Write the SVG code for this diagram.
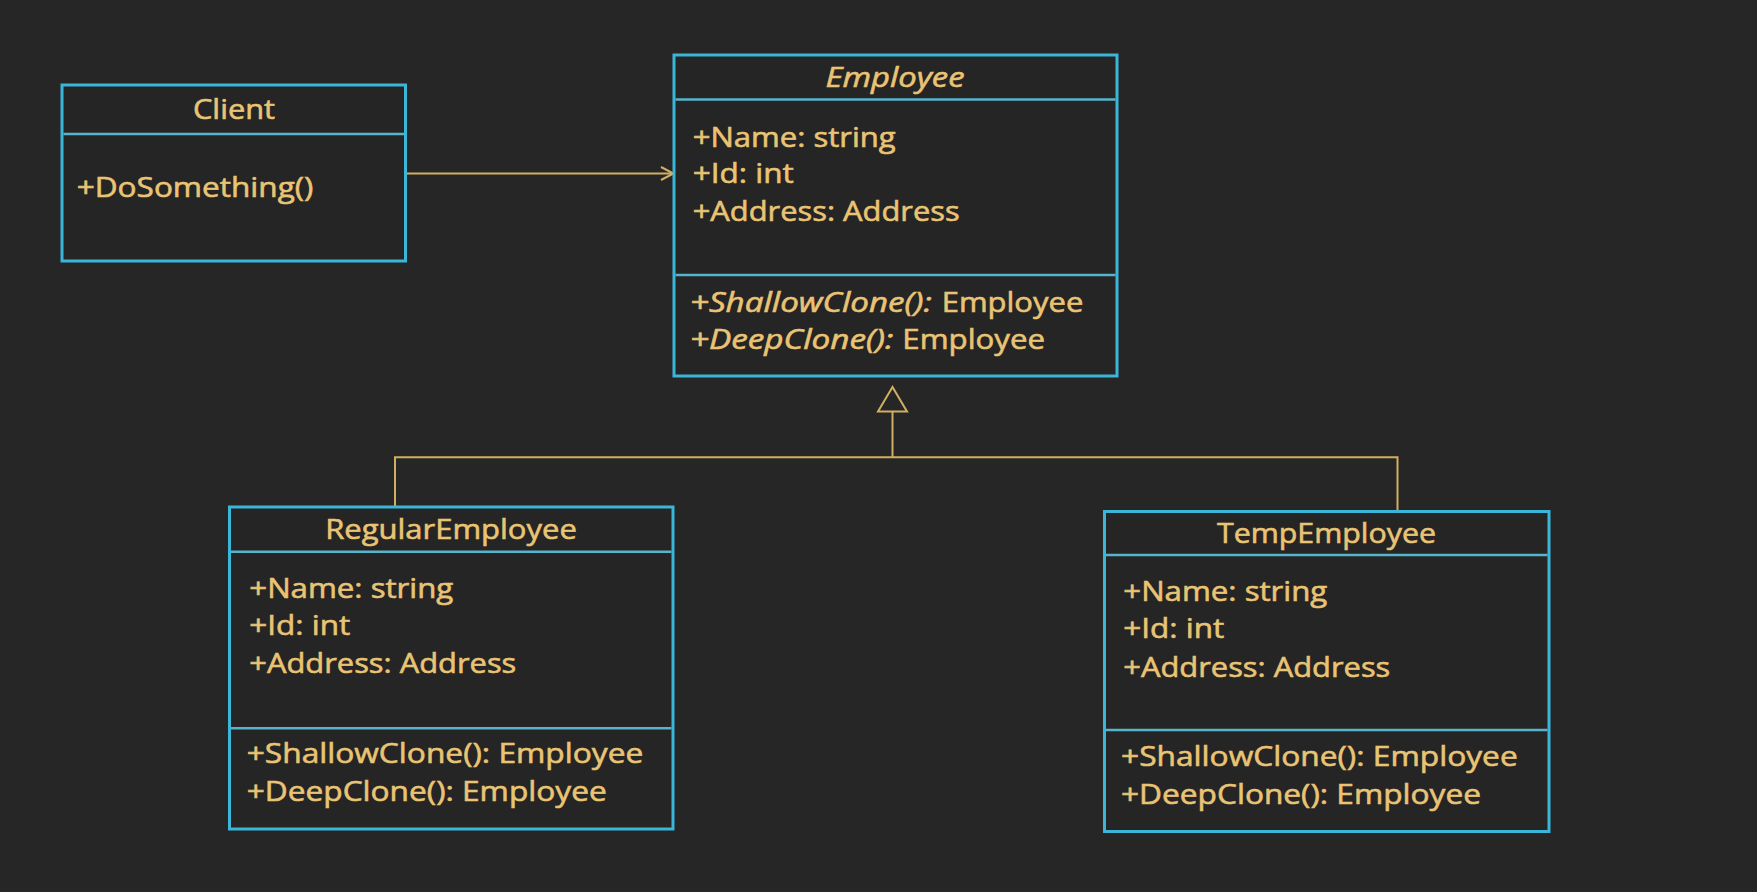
<svg xmlns="http://www.w3.org/2000/svg" width="1757" height="892" viewBox="0 0 1757 892">
<style>
.box{fill:#252525;stroke:#3ab6d8;stroke-width:3}
.div{stroke:#56b4cc;stroke-width:2.5}
.t{font-family:"Open Sans","Noto Sans",sans-serif;font-size:28px;fill:#e9c474;stroke:#e9c474;stroke-width:0.6}
.h{text-anchor:middle}
.i{font-style:italic}
.c{fill:none;stroke:#d2ae62;stroke-width:2}
</style>
<rect x="0" y="0" width="1757" height="892" fill="#262626"/>
<g id="connectors">
<line class="c" x1="406" y1="173.5" x2="673" y2="173.5"/>
<polyline class="c" points="661,167 673.5,173.5 661,180"/>
<polygon class="c" points="892.5,387 878,411.5 907,411.5"/>
<polyline class="c" points="892.5,411.5 892.5,457.3"/>
<polyline class="c" points="395,506 395,457.3 1397.5,457.3 1397.5,510"/>
</g>
<g id="client">
<rect class="box" x="62" y="85" width="343.5" height="176"/>
<line class="div" x1="63.5" y1="134" x2="404" y2="134"/>
<text class="t h" x="234" y="119" textLength="82" lengthAdjust="spacingAndGlyphs">Client</text>
<text class="t" x="76.7" y="196.5" textLength="236.7" lengthAdjust="spacingAndGlyphs">+DoSomething()</text>
</g>
<g id="employee">
<rect class="box" x="674" y="55" width="443" height="321"/>
<line class="div" x1="675.5" y1="99.5" x2="1115.5" y2="99.5"/>
<line class="div" x1="675.5" y1="275" x2="1115.5" y2="275"/>
<text class="t h i" x="895" y="86.7" textLength="139" lengthAdjust="spacingAndGlyphs">Employee</text>
<text class="t" x="692.7" y="146.5" textLength="203" lengthAdjust="spacingAndGlyphs">+Name: string</text>
<text class="t" x="692.7" y="183.3" textLength="101" lengthAdjust="spacingAndGlyphs">+Id: int</text>
<text class="t" x="692.7" y="220.5" textLength="267" lengthAdjust="spacingAndGlyphs">+Address: Address</text>
<text class="t i" x="690" y="311.5" textLength="241.7" lengthAdjust="spacingAndGlyphs">+ShallowClone():</text>
<text class="t" x="941.7" y="311.5" textLength="141.6" lengthAdjust="spacingAndGlyphs">Employee</text>
<text class="t i" x="690" y="348.5" textLength="203.3" lengthAdjust="spacingAndGlyphs">+DeepClone():</text>
<text class="t" x="902.3" y="348.5" textLength="142.7" lengthAdjust="spacingAndGlyphs">Employee</text>
</g>
<g id="regular-employee">
<rect class="box" x="229.5" y="507" width="443.5" height="322"/>
<line class="div" x1="231" y1="551.7" x2="671.5" y2="551.7"/>
<line class="div" x1="231" y1="728.3" x2="671.5" y2="728.3"/>
<text class="t h" x="451" y="539.3" textLength="251.7" lengthAdjust="spacingAndGlyphs">RegularEmployee</text>
<text class="t" x="249.3" y="598.3" textLength="204" lengthAdjust="spacingAndGlyphs">+Name: string</text>
<text class="t" x="249.3" y="635" textLength="101" lengthAdjust="spacingAndGlyphs">+Id: int</text>
<text class="t" x="249.3" y="673" textLength="267" lengthAdjust="spacingAndGlyphs">+Address: Address</text>
<text class="t" x="246.7" y="763.3" textLength="396.6" lengthAdjust="spacingAndGlyphs">+ShallowClone(): Employee</text>
<text class="t" x="246.7" y="800.7" textLength="360" lengthAdjust="spacingAndGlyphs">+DeepClone(): Employee</text>
</g>
<g id="temp-employee">
<rect class="box" x="1104.5" y="511.5" width="444.5" height="320"/>
<line class="div" x1="1106" y1="555" x2="1547.5" y2="555"/>
<line class="div" x1="1106" y1="730" x2="1547.5" y2="730"/>
<text class="t h" x="1326.5" y="543.3" textLength="219" lengthAdjust="spacingAndGlyphs">TempEmployee</text>
<text class="t" x="1123.3" y="600.7" textLength="204" lengthAdjust="spacingAndGlyphs">+Name: string</text>
<text class="t" x="1123.3" y="638.3" textLength="101" lengthAdjust="spacingAndGlyphs">+Id: int</text>
<text class="t" x="1123.3" y="676.7" textLength="267" lengthAdjust="spacingAndGlyphs">+Address: Address</text>
<text class="t" x="1121" y="766" textLength="396.7" lengthAdjust="spacingAndGlyphs">+ShallowClone(): Employee</text>
<text class="t" x="1121" y="804" textLength="360" lengthAdjust="spacingAndGlyphs">+DeepClone(): Employee</text>
</g>
</svg>
